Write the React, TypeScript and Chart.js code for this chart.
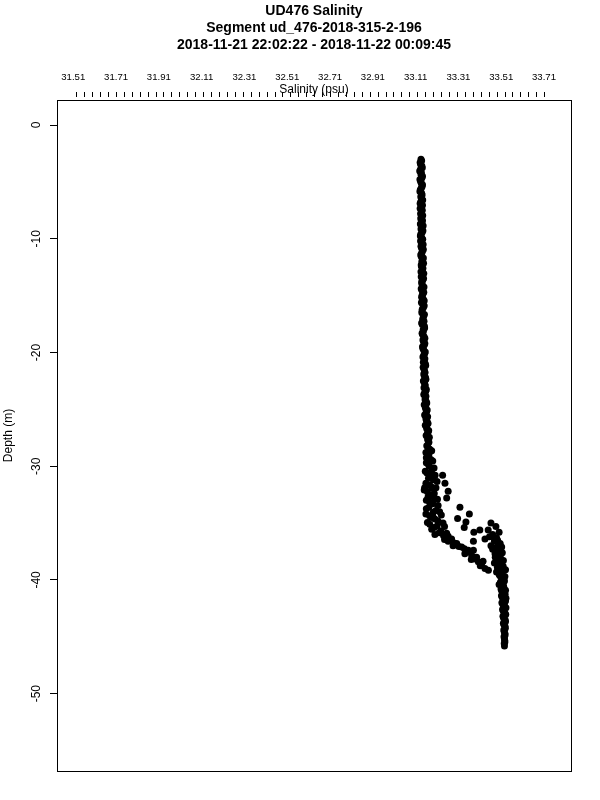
import React, { useEffect, useRef } from "react";
import { Chart, registerables } from "chart.js";

Chart.register(...registerables);

const TITLE_LINES = [
  "UD476 Salinity",
  "Segment ud_476-2018-315-2-196",
  "2018-11-21 22:02:22 - 2018-11-22 00:09:45",
];
const X_TITLE = "Salinity (psu)";
const Y_TITLE = "Depth (m)";

const X_TICK_LABELS = ["31.51", "31.71", "31.91", "32.11", "32.31", "32.51", "32.71", "32.91", "33.11", "33.31", "33.51", "33.71"];
const Y_TICK_VALUES = [0, -10, -20, -30, -40, -50];
const X_MIN = 31.434;
const X_MAX = 33.836;
const Y_MIN = -56.8;
const Y_MAX = 2.2;

const MINOR_TICK_START = 31.524;
const MINOR_TICK_STEP = 0.03706;
const MINOR_TICK_COUNT = 60;

// upper mixed layer (down cast)
const upperDepth = [
  -3.0, -3.3, -3.6, -3.9, -4.2, -4.5, -4.8, -5.1, -5.4, -5.7,
  -6.0, -6.3, -6.6, -6.9, -7.2, -7.5, -7.8, -8.1, -8.4, -8.7,
  -9.0, -9.3, -9.6, -9.9, -10.2, -10.5, -10.8, -11.1, -11.4, -11.7,
  -12.0, -12.3, -12.6, -12.9, -13.2, -13.5, -13.8, -14.1, -14.4, -14.7,
  -15.0, -15.3, -15.6, -15.9, -16.2, -16.5, -16.8, -17.1, -17.4, -17.7,
  -18.0, -18.3, -18.6, -18.9, -19.2, -19.5, -19.8, -20.1, -20.4, -20.7,
  -21.0, -21.3, -21.6, -21.9, -22.2, -22.5, -22.8, -23.1, -23.4, -23.7,
  -24.0, -24.3, -24.6, -24.9, -25.2, -25.5, -25.8, -26.1, -26.4, -26.7,
  -27.0, -27.3, -27.6, -27.9,
];
const upperSalinity = [
  33.135, 33.131, 33.139, 33.133, 33.137, 33.142, 33.130, 33.136, 33.140, 33.132,
  33.138, 33.134, 33.143, 33.131, 33.137, 33.141, 33.133, 33.136, 33.142, 33.132,
  33.139, 33.144, 33.134, 33.138, 33.133, 33.145, 33.137, 33.141, 33.134, 33.146,
  33.139, 33.136, 33.144, 33.135, 33.141, 33.147, 33.138, 33.142, 33.136, 33.148,
  33.140, 33.145, 33.137, 33.150, 33.141, 33.139, 33.147, 33.143, 33.138, 33.151,
  33.145, 33.140, 33.149, 33.144, 33.153, 33.142, 33.148, 33.152, 33.144, 33.150,
  33.155, 33.145, 33.151, 33.148, 33.156, 33.146, 33.153, 33.149, 33.157, 33.148,
  33.155, 33.159, 33.150, 33.156, 33.161, 33.152, 33.158, 33.164, 33.155, 33.162,
  33.168, 33.159, 33.166, 33.172,
];

// upper mixed layer (up cast)
const upper2Depth = [
  -3.15, -3.45, -3.75, -4.05, -4.35, -4.65, -4.95, -5.25, -5.55, -5.85,
  -6.15, -6.45, -6.75, -7.05, -7.35, -7.65, -7.95, -8.25, -8.55, -8.85,
  -9.15, -9.45, -9.75, -10.05, -10.35, -10.65, -10.95, -11.25, -11.55, -11.85,
  -12.15, -12.45, -12.75, -13.05, -13.35, -13.65, -13.95, -14.25, -14.55, -14.85,
  -15.15, -15.45, -15.75, -16.05, -16.35, -16.65, -16.95, -17.25, -17.55, -17.85,
  -18.15, -18.45, -18.75, -19.05, -19.35, -19.65, -19.95, -20.25, -20.55, -20.85,
  -21.15, -21.45, -21.75, -22.05, -22.35, -22.65, -22.95, -23.25, -23.55, -23.85,
  -24.15, -24.45, -24.75, -25.05, -25.35, -25.65, -25.95, -26.25, -26.55, -26.85,
  -27.15, -27.45, -27.75,
];
const upper2Salinity = [
  33.138, 33.133, 33.141, 33.129, 33.135, 33.139, 33.133, 33.142, 33.136, 33.130,
  33.140, 33.137, 33.134, 33.142, 33.131, 33.138, 33.143, 33.134, 33.139, 33.145,
  33.135, 33.140, 33.132, 33.143, 33.138, 33.135, 33.146, 33.139, 33.136, 33.143,
  33.147, 33.137, 33.142, 33.148, 33.136, 33.143, 33.139, 33.149, 33.140, 33.144,
  33.138, 33.150, 33.143, 33.146, 33.140, 33.151, 33.145, 33.149, 33.141, 33.152,
  33.146, 33.143, 33.153, 33.147, 33.150, 33.144, 33.155, 33.148, 33.153, 33.146,
  33.157, 33.149, 33.154, 33.150, 33.158, 33.151, 33.155, 33.160, 33.152, 33.158,
  33.154, 33.162, 33.157, 33.164, 33.158, 33.166, 33.160, 33.168, 33.161, 33.171,
  33.165, 33.174, 33.168,
];

// halocline, left branch
const haloDepth = [
  -28.2, -28.5, -28.8, -29.1, -29.4, -29.7, -30.0, -30.3, -30.6, -30.9,
  -31.2, -31.5, -31.8, -32.1, -32.4, -32.7, -33.0, -33.3, -33.6, -33.9,
  -34.2, -34.5, -34.8, -35.1, -35.4, -35.7, -30.8, -31.9, -32.9, -31.9,
  -34.0, -34.4, -35.0, -35.9, -36.1, -36.4, -36.6, -36.8, -37.0, -37.1,
  -37.4, -37.4, -37.7, -38.0, -38.2, -38.4, -38.6, -39.0,
];
const haloSalinity = [
  33.162, 33.176, 33.158, 33.170, 33.181, 33.160, 33.174, 33.186, 33.163, 33.178,
  33.192, 33.158, 33.183, 33.150, 33.197, 33.168, 33.160, 33.190, 33.172, 33.205,
  33.158, 33.183, 33.214, 33.176, 33.196, 33.228, 33.201, 33.205, 33.212, 33.152,
  33.222, 33.190, 33.238, 33.255, 33.240, 33.278, 33.262, 33.302, 33.285, 33.325,
  33.356, 33.380, 33.340, 33.395, 33.370, 33.403, 33.418, 33.434,
];

const halo2Depth = [
  -28.35, -28.65, -28.95, -29.25, -29.55, -29.85, -30.15, -30.45, -30.75, -31.05,
  -31.35, -31.65, -31.95, -32.25, -32.55, -32.85, -33.15, -33.45, -33.75, -34.05,
  -34.35, -34.65, -34.95, -35.25, -35.55, -35.85, -36.15, -36.45, -36.75, -37.05,
  -37.25, -37.55, -37.85, -38.15, -38.35, -38.75, -39.15, -36.0, -35.3, -34.3,
];
const halo2Salinity = [
  33.168, 33.185, 33.172, 33.160, 33.190, 33.170, 33.196, 33.155, 33.184, 33.170,
  33.210, 33.175, 33.190, 33.165, 33.182, 33.198, 33.175, 33.215, 33.160, 33.192,
  33.175, 33.200, 33.165, 33.210, 33.185, 33.220, 33.262, 33.245, 33.290, 33.312,
  33.338, 33.365, 33.372, 33.388, 33.425, 33.412, 33.450, 33.200, 33.245, 33.230,
];

// scattered points between the branches
const scatterDepth = [
  -30.8, -31.5, -32.2, -32.8, -33.6, -34.2, -34.6, -34.9, -35.4, -35.0,
  -35.6, -35.6, -35.8, -36.3, -36.4, -36.6,
];
const scatterSalinity = [
  33.236, 33.247, 33.262, 33.255, 33.317, 33.361, 33.306, 33.345, 33.337, 33.462,
  33.449, 33.410, 33.382, 33.477, 33.434, 33.380,
];

// deep layer
const deepDepth = [
  -36.5, -37.1, -37.3, -37.7, -38.1, -38.5, -38.8, -39.3, -39.5, -39.7,
  -36.0, -36.3, -36.6, -36.9, -37.2, -37.5, -37.8, -38.1, -38.4, -38.7,
  -39.0, -39.3, -39.6, -39.9, -40.2, -40.5, -40.8, -41.1, -41.4, -41.7,
  -42.0, -42.3, -42.6, -42.9, -43.2, -43.5, -43.8, -44.1, -44.4, -44.7,
  -45.0, -45.3, -45.6, -45.8,
];
const deepSalinity = [
  33.493, 33.512, 33.470, 33.481, 33.504, 33.478, 33.519, 33.488, 33.500, 33.527,
  33.470, 33.488, 33.478, 33.495, 33.485, 33.500, 33.490, 33.507, 33.496, 33.512,
  33.500, 33.515, 33.503, 33.518, 33.506, 33.520, 33.509, 33.522, 33.511, 33.524,
  33.513, 33.526, 33.516, 33.527, 33.518, 33.528, 33.520, 33.528, 33.522, 33.527,
  33.523, 33.526, 33.524, 33.525,
];

const deep2Depth = [
  -35.3, -35.8, -36.2, -36.8, -37.0, -37.6, -38.0, -38.3, -38.9, -39.1,
  -39.8, -40.1, -40.4, -40.9, -41.3, -41.6, -40.05, -40.35, -40.65, -40.95,
  -41.25, -41.55, -41.85, -42.15, -42.45, -42.75, -43.05, -43.35, -43.65, -43.95,
  -44.25, -44.55, -44.85, -45.15, -45.45,
];
const deep2Salinity = [
  33.485, 33.500, 33.455, 33.505, 33.462, 33.515, 33.482, 33.520, 33.492, 33.530,
  33.510, 33.525, 33.500, 33.530, 33.515, 33.532, 33.515, 33.505, 33.522, 33.512,
  33.528, 33.515, 33.530, 33.518, 33.532, 33.520, 33.531, 33.521, 33.530, 33.523,
  33.529, 33.524, 33.528, 33.525, 33.527,
];

const FONT = "'Liberation Sans', Helvetica, Arial, sans-serif";

function toPoints(sal: number[], dep: number[]) {
  return dep.map((d, i) => ({ x: sal[i], y: d }));
}

const framePlugin = {
  id: "frame",
  afterDraw(chart: any) {
    const { ctx, chartArea } = chart;
    const { left, top, right, bottom } = chartArea;
    const xs = chart.scales.x;
    ctx.save();
    ctx.strokeStyle = "#000";
    ctx.lineWidth = 1;
    const l = Math.round(left);
    const t = Math.round(top);
    const r = Math.round(right);
    const b = Math.round(bottom);
    ctx.strokeRect(l + 0.5, t + 0.5, r - l, b - t);
    ctx.beginPath();
    for (let k = 0; k < MINOR_TICK_COUNT; k++) {
      const v = MINOR_TICK_START + k * MINOR_TICK_STEP;
      const px = Math.round(xs.getPixelForValue(v)) + 0.5;
      ctx.moveTo(px, t - 8);
      ctx.lineTo(px, t - 3);
    }
    ctx.stroke();
    ctx.restore();
  },
};

export default function App() {
  const ref = useRef<HTMLCanvasElement | null>(null);

  useEffect(() => {
    if (!ref.current) return;
    const points = [
      ...toPoints(upperSalinity, upperDepth),
      ...toPoints(upper2Salinity, upper2Depth),
      ...toPoints(haloSalinity, haloDepth),
      ...toPoints(halo2Salinity, halo2Depth),
      ...toPoints(scatterSalinity, scatterDepth),
      ...toPoints(deepSalinity, deepDepth),
      ...toPoints(deep2Salinity, deep2Depth),
    ];
    const chart = new Chart(ref.current, {
      type: "scatter",
      data: {
        datasets: [
          {
            data: points,
            pointRadius: 3.5,
            pointHoverRadius: 3.5,
            pointBackgroundColor: "#000",
            pointBorderColor: "#000",
            pointBorderWidth: 0,
            showLine: false,
          },
        ],
      },
      options: {
        responsive: false,
        animation: false,
        devicePixelRatio: 1,
        layout: { padding: { left: 0, right: 29, top: 0, bottom: 29 } },
        plugins: {
          legend: { display: false },
          tooltip: { enabled: false },
          title: {
            display: true,
            text: TITLE_LINES,
            fullSize: false,
            color: "#000",
            font: { family: FONT, size: 14, weight: "bold", lineHeight: 17 / 14 },
            padding: { top: 2.5, bottom: 0 },
          },
        },
        scales: {
          x: {
            type: "linear",
            position: "top",
            min: X_MIN,
            max: X_MAX,
            afterBuildTicks: (s: any) => {
              s.ticks = X_TICK_LABELS.map((t) => ({ value: parseFloat(t) }));
            },
            afterFit: (s: any) => {
              s.height = 46.5;
            },
            ticks: {
              autoSkip: false,
              maxRotation: 0,
              minRotation: 0,
              color: "#000",
              padding: 17,
              font: { family: FONT, size: 9.6 },
              callback: (v: any) => {
                const idx = X_TICK_LABELS.findIndex((t) => Math.abs(parseFloat(t) - v) < 1e-6);
                return idx >= 0 ? X_TICK_LABELS[idx] : "";
              },
            },
            grid: { display: false, drawTicks: false },
            border: { display: false },
            title: {
              display: true,
              text: X_TITLE,
              color: "#000",
              font: { family: FONT, size: 12 },
              padding: { top: 29.3, bottom: 0 },
            },
          },
          y: {
            type: "linear",
            position: "left",
            min: Y_MIN,
            max: Y_MAX,
            afterBuildTicks: (s: any) => {
              s.ticks = Y_TICK_VALUES.map((v) => ({ value: v }));
            },
            afterFit: (s: any) => {
              s.width = 57;
            },
            ticks: {
              autoSkip: false,
              minRotation: 90,
              maxRotation: 90,
              crossAlign: "center",
              color: "#000",
              padding: 5,
              font: { family: FONT, size: 12 },
              callback: (v: any) => String(v),
            },
            grid: {
              display: true,
              drawOnChartArea: false,
              drawTicks: true,
              tickLength: 7,
              color: "#000",
              lineWidth: 1,
            },
            border: { display: false },
            title: {
              display: true,
              text: Y_TITLE,
              color: "#000",
              font: { family: FONT, size: 12 },
              padding: { top: 1.3, bottom: 0 },
            },
          },
        },
      } as any,
      plugins: [framePlugin],
    });
    return () => chart.destroy();
  }, []);

  return (
    <div style={{ position: "absolute", left: 0, top: 0, width: 600, height: 800, background: "#fff" }}>
      <canvas ref={ref} width={600} height={800} />
    </div>
  );
}
